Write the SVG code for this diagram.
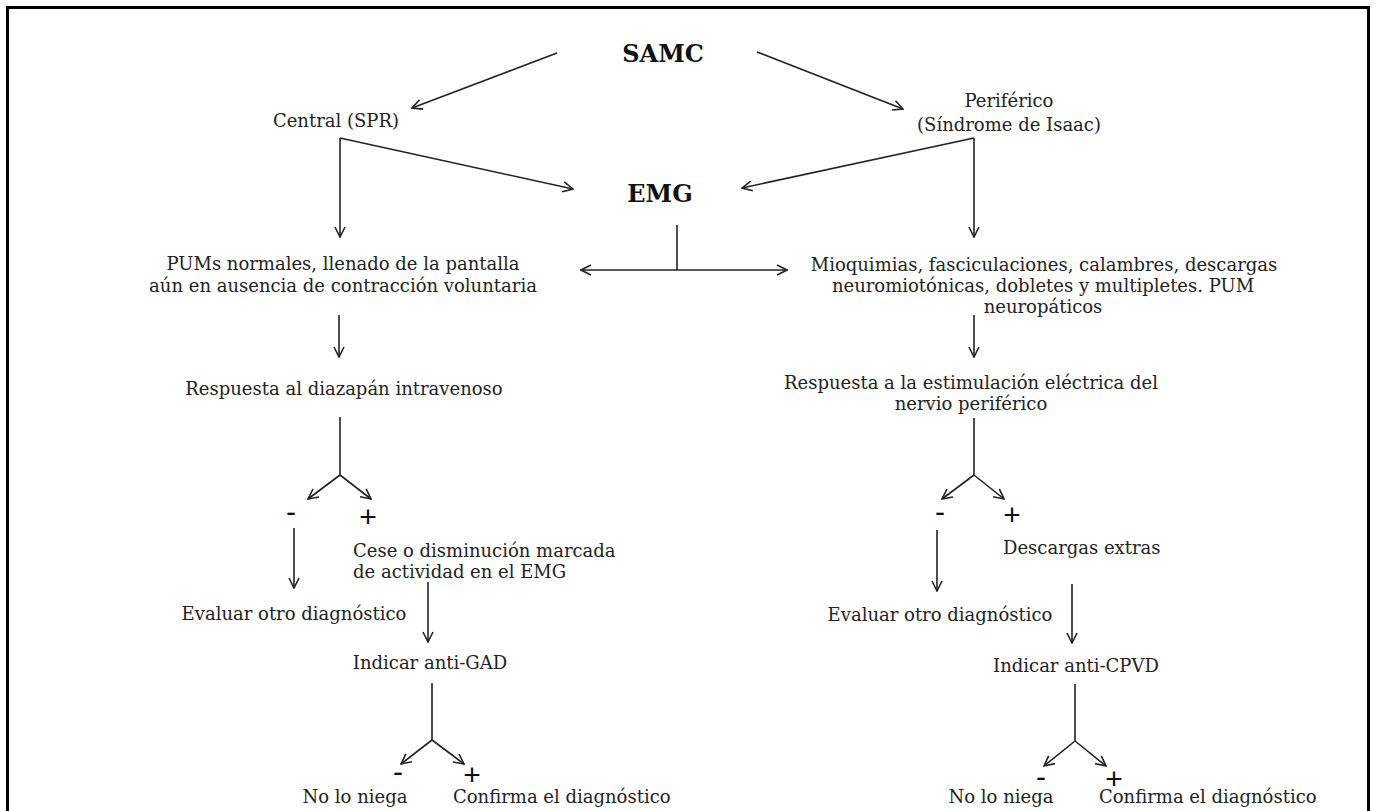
<svg xmlns="http://www.w3.org/2000/svg" width="1376" height="811" viewBox="0 0 1376 811">
<style>
.t{font-family:"DejaVu Serif","Liberation Serif",serif;font-size:18px;fill:#222}
.m{text-anchor:middle}
.b{font-family:"DejaVu Serif","Liberation Serif",serif;font-size:24px;font-weight:bold;fill:#111;text-anchor:middle}
.s{font-family:"Liberation Sans","DejaVu Sans",sans-serif;font-size:30px;fill:#111;text-anchor:middle}
.c line,.c path{stroke:#222;stroke-width:1.6;fill:none}
.a{marker-end:url(#ah)}
</style>
<defs>
<marker id="ah" viewBox="0 0 12 12" refX="11" refY="6" markerWidth="12" markerHeight="12" markerUnits="userSpaceOnUse" orient="auto">
<path d="M1,1 L11,6 L1,11" fill="none" stroke="#222" stroke-width="1.6"/>
</marker>
</defs>
<rect x="0" y="0" width="1376" height="811" fill="#fff"/>
<rect x="7.5" y="7.5" width="1361" height="820" fill="none" stroke="#000" stroke-width="3"/>

<g id="samc"><text class="b" x="663" y="62">SAMC</text></g>
<g id="central"><text class="t m" x="336" y="127">Central (SPR)</text></g>
<g id="periferico"><text class="t m" x="1009" y="107">Periférico</text><text class="t m" x="1009" y="131">(Síndrome de Isaac)</text></g>
<g id="emg"><text class="b" x="660" y="202">EMG</text></g>
<g id="pums"><text class="t m" x="343" y="270">PUMs normales, llenado de la pantalla</text><text class="t m" x="343" y="292">aún en ausencia de contracción voluntaria</text></g>
<g id="mioq"><text class="t m" x="1044" y="271">Mioquimias, fasciculaciones, calambres, descargas</text><text class="t m" x="1043" y="292">neuromiotónicas, dobletes y multipletes. PUM</text><text class="t m" x="1043" y="313">neuropáticos</text></g>
<g id="diaz"><text class="t m" x="344" y="395">Respuesta al diazapán intravenoso</text></g>
<g id="estim"><text class="t m" x="971" y="389">Respuesta a la estimulación eléctrica del</text><text class="t m" x="971" y="410">nervio periférico</text></g>
<g id="signs1"><text class="s" x="291" y="522">-</text><text class="s" x="368" y="527">+</text></g>
<g id="signs2"><text class="s" x="940" y="522">-</text><text class="s" x="1012" y="525">+</text></g>
<g id="cese"><text class="t" x="353" y="557">Cese o disminución marcada</text><text class="t" x="353" y="578">de actividad en el EMG</text></g>
<g id="descargas"><text class="t" x="1003" y="554">Descargas extras</text></g>
<g id="eval1"><text class="t m" x="294" y="620">Evaluar otro diagnóstico</text></g>
<g id="eval2"><text class="t m" x="940" y="621">Evaluar otro diagnóstico</text></g>
<g id="gad"><text class="t m" x="430" y="669">Indicar anti-GAD</text></g>
<g id="cpvd"><text class="t m" x="1076" y="672">Indicar anti-CPVD</text></g>
<g id="signs3"><text class="s" x="398" y="782">-</text><text class="s" x="472" y="785">+</text></g>
<g id="signs4"><text class="s" x="1041" y="787">-</text><text class="s" x="1114" y="789">+</text></g>
<g id="res1"><text class="t m" x="355" y="803">No lo niega</text><text class="t" x="453" y="803">Confirma el diagnóstico</text></g>
<g id="res2"><text class="t m" x="1001" y="803">No lo niega</text><text class="t" x="1099" y="803">Confirma el diagnóstico</text></g>

<g id="connectors" class="c">
<line class="a" x1="557" y1="53" x2="412" y2="108"/>
<line class="a" x1="757" y1="52" x2="903" y2="109"/>
<line class="a" x1="340" y1="138" x2="340" y2="237"/>
<line class="a" x1="340" y1="138" x2="573" y2="189"/>
<line class="a" x1="974" y1="138" x2="974" y2="237"/>
<line class="a" x1="974" y1="138" x2="742" y2="188"/>
<line x1="677" y1="225" x2="677" y2="270"/>
<line class="a" x1="677" y1="270" x2="581" y2="270"/>
<line class="a" x1="677" y1="270" x2="787" y2="270"/>
<line class="a" x1="339" y1="315" x2="339" y2="357"/>
<line class="a" x1="974" y1="315" x2="974" y2="357"/>
<line x1="340" y1="417" x2="340" y2="475"/>
<line class="a" x1="340" y1="475" x2="308" y2="499"/>
<line class="a" x1="340" y1="475" x2="371" y2="499"/>
<line class="a" x1="294" y1="528" x2="294" y2="588"/>
<line class="a" x1="428" y1="582" x2="428" y2="642"/>
<line x1="432" y1="683" x2="432" y2="740"/>
<line class="a" x1="432" y1="740" x2="401" y2="764"/>
<line class="a" x1="432" y1="740" x2="464" y2="764"/>
<line x1="974" y1="418" x2="974" y2="475"/>
<line class="a" x1="974" y1="475" x2="942" y2="499"/>
<line class="a" x1="974" y1="475" x2="1004" y2="499"/>
<line class="a" x1="937" y1="530" x2="937" y2="591"/>
<line class="a" x1="1072" y1="584" x2="1072" y2="643"/>
<line x1="1075" y1="684" x2="1075" y2="741"/>
<line class="a" x1="1075" y1="741" x2="1044" y2="766"/>
<line class="a" x1="1075" y1="741" x2="1106" y2="766"/>
</g>
</svg>
